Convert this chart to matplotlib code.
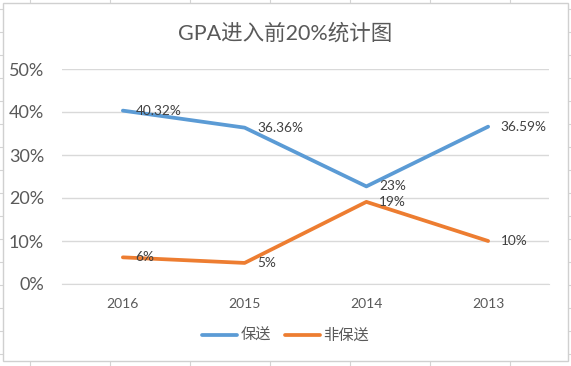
import matplotlib.pyplot as plt
from matplotlib.patches import Rectangle
from matplotlib.ticker import PercentFormatter

plt.rcParams['font.family'] = ['Lato', 'Noto Sans CJK SC', 'DejaVu Sans']

# data
years = ["2016", "2015", "2014", "2013"]
baosong = [40.32, 36.36, 22.7, 36.59]
fei_baosong = [6.2, 4.9, 19.1, 10.0]
baosong_labels = ["40.32%", "36.36%", "23%", "36.59%"]
fei_labels = ["6%", "5%", "19%", "10%"]
title = "GPA进入前20%统计图"

W, H = 571, 366
fig = plt.figure(figsize=(W / 100, H / 100), dpi=100)

# spreadsheet cells behind the chart
bg = fig.add_axes([0, 0, 1, 1])
bg.set_xlim(0, W)
bg.set_ylim(H, 0)
bg.axis("off")
for x in range(30, W, 80):
    bg.axvline(x, color="#d4d4d4", lw=0.8, zorder=1)
for y in range(9, H, 23):
    bg.axhline(y, color="#d4d4d4", lw=0.8, zorder=1)
bg.add_patch(Rectangle((3, 3), 565, 358, facecolor="white", edgecolor="#d0d0d0",
                       lw=1.0, zorder=5))

# plot area
ax = fig.add_axes([62 / W, 82 / H, 487 / W, 215 / H])
ax.patch.set_alpha(0)
xs = range(len(years))
blue, orange = "#5B9BD5", "#ED7D31"
ax.plot(xs, baosong, color=blue, lw=2.7, solid_capstyle="round", label="保送", zorder=3)
ax.plot(xs, fei_baosong, color=orange, lw=2.7, solid_capstyle="round", label="非保送", zorder=3)

for i, (v, t) in enumerate(zip(baosong, baosong_labels)):
    ax.annotate(t, (i, v), xytext=(9, 0), textcoords="offset points",
                ha="left", va="center", fontsize=9.8, color="#404040", zorder=4)
for i, (v, t) in enumerate(zip(fei_baosong, fei_labels)):
    ax.annotate(t, (i, v), xytext=(9, 0), textcoords="offset points",
                ha="left", va="center", fontsize=9.8, color="#404040", zorder=4)

ax.set_xlim(-0.5, len(years) - 0.5)
ax.set_ylim(0, 50)
ax.set_yticks([0, 10, 20, 30, 40, 50])
ax.yaxis.set_major_formatter(PercentFormatter(decimals=0))
ax.set_xticks(list(xs))
ax.set_xticklabels(years)
ax.grid(axis="y", color="#d9d9d9", lw=1.0)
ax.set_axisbelow(True)
for s in ["top", "right", "left"]:
    ax.spines[s].set_visible(False)
ax.spines["bottom"].set_color("#d9d9d9")
ax.tick_params(axis="both", length=0, colors="#595959")
ax.tick_params(axis="y", labelsize=13, pad=13)
ax.tick_params(axis="x", labelsize=10, pad=10)

fig.text(0.5, 1 - 33 / H, title, ha="center", va="center", fontsize=15.5, color="#595959")

leg = ax.legend(loc="center", frameon=False, ncol=2, fontsize=11, handlelength=2.3,
                columnspacing=0.9, handletextpad=0.2, labelcolor="#595959")
leg.set_bbox_to_anchor((0.5, (366 - 336) / H), transform=fig.transFigure)

fig.savefig("out.png", dpi=100)
